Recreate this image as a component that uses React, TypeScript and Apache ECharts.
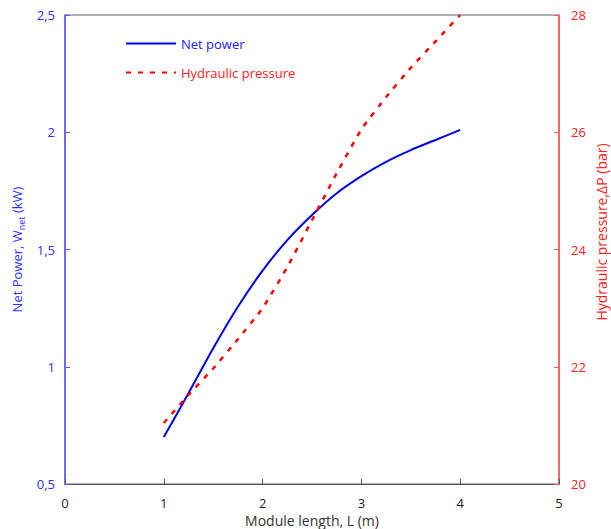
import React, { useEffect, useRef } from "react";
import * as echarts from "echarts";

const lengths = [1, 1.25, 1.5, 1.75, 2, 2.25, 2.5, 2.75, 3, 3.25, 3.5, 3.75, 4];
const netPower = [0.7, 0.887, 1.079, 1.256, 1.41, 1.54, 1.647, 1.74, 1.813, 1.874, 1.924, 1.967, 2.01];
const pressure = [21.04, 21.52, 21.97, 22.47, 23.0, 23.7, 24.5, 25.3, 26.05, 26.6, 27.1, 27.55, 28.0];

const FONT = "'Open Sans', 'Liberation Sans', sans-serif";

export default function App() {
  const ref = useRef<HTMLDivElement>(null);
  useEffect(() => {
    const chart = echarts.init(ref.current!, undefined, { renderer: "svg" });
    chart.setOption({
      animation: false,
      textStyle: { fontFamily: FONT },
      grid: {
        left: 65,
        right: 52,
        top: 15,
        bottom: 45,
        outerBoundsMode: "none",
        containLabel: false,
        show: true,
        borderColor: "#666",
        borderWidth: 1,
      },
      legend: {
        orient: "vertical",
        left: 120,
        top: 32,
        itemWidth: 50,
        itemHeight: 12,
        itemGap: 16,
        itemStyle: { opacity: 0 },
        textStyle: { fontSize: 13, fontFamily: FONT },
        data: [
          { name: "Net power", textStyle: { color: "#2020ff" } },
          { name: "Hydraulic pressure", textStyle: { color: "#ff2020" } },
        ],
      },
      graphic: [
        {
          type: "text",
          x: 601,
          y: 232,
          rotation: Math.PI / 2,
          style: {
            text: "Hydraulic pressure,ΔP (bar)",
            fill: "#ff2020",
            fontSize: 14,
            fontFamily: FONT,
            align: "center",
            verticalAlign: "middle",
          },
        },
      ],
      xAxis: {
        type: "value",
        min: 0,
        max: 5,
        interval: 1,
        name: "Module length, L (m)",
        nameLocation: "middle",
        nameGap: 23,
        nameTextStyle: { color: "#333", fontSize: 14, fontFamily: FONT },
        axisLine: { lineStyle: { color: "#555", width: 1 } },
        axisTick: { inside: true, length: 5, lineStyle: { color: "#555" } },
        axisLabel: { color: "#222", fontSize: 13, margin: 12 },
        splitLine: { show: false },
      },
      yAxis: [
        {
          type: "value",
          min: 0.5,
          max: 2.5,
          interval: 0.5,
          position: "left",
          name: "Net Power, W{sub|net} (kW)",
          nameLocation: "middle",
          nameGap: 33,
          nameTextStyle: {
            color: "#3030ff",
            fontSize: 13,
            fontFamily: FONT,
            rich: { sub: { fontSize: 9, color: "#3030ff", padding: [9, 0, 0, 0], fontFamily: FONT } },
          },
          axisLine: { show: true, lineStyle: { color: "#5555ff", width: 1.5 } },
          axisTick: { show: true, inside: true, length: 5, lineStyle: { color: "#5555ff" } },
          axisLabel: {
            color: "#3030ff",
            fontSize: 13,
            margin: 10,
            formatter: (v: number) => String(v).replace(".", ","),
          },
          splitLine: { show: false },
        },
        {
          type: "value",
          min: 20,
          max: 28,
          interval: 2,
          position: "right",
          axisLine: { show: true, lineStyle: { color: "#ff5555", width: 1.5 } },
          axisTick: { show: true, inside: true, length: 5, lineStyle: { color: "#ff5555" } },
          axisLabel: { color: "#ff2020", fontSize: 13, margin: 12 },
          splitLine: { show: false },
        },
      ],
      series: [
        {
          name: "Net power",
          type: "line",
          yAxisIndex: 0,
          data: lengths.map((x, i) => [x, netPower[i]]),
          symbol: "none",
          smooth: 0.25,
          lineStyle: { color: "#0000ee", width: 2 },
          itemStyle: { color: "#0000ee" },
        },
        {
          name: "Hydraulic pressure",
          type: "line",
          yAxisIndex: 1,
          data: lengths.map((x, i) => [x, pressure[i]]),
          symbol: "none",
          smooth: 0.15,
          lineStyle: { color: "#ff0000", width: 2.5, type: [5, 7] },
          itemStyle: { color: "#ff0000" },
        },
      ],
    });
    return () => chart.dispose();
  }, []);
  return (
    <div
      ref={ref}
      style={{ position: "fixed", left: 0, top: 0, width: 611, height: 529, background: "#fff" }}
    />
  );
}
